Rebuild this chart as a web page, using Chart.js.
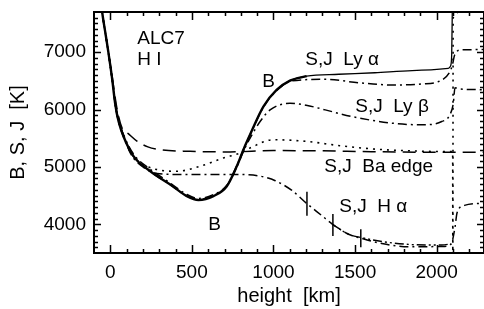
<!DOCTYPE html>
<html>
<head>
<meta charset="utf-8">
<script src="https://cdn.jsdelivr.net/npm/chart.js@4.4.0/dist/chart.umd.min.js"></script>
<style>
  html, body { margin: 0; padding: 0; background: #fff; }
</style>
</head>
<body>
<canvas id="chart" width="484" height="309"></canvas>
<script>
// axis ticks
const xTickValues = [0, 500, 1000, 1500, 2000];
const yTickValues = [4000, 5000, 6000, 7000];

// B (Planck), thick solid
const bHeight = [-60, -50, -30, -12, 10, 31, 50, 81, 143, 245, 367, 469, 540, 632, 714, 775, 820, 856, 938, 1019, 1101, 1203];
const bTemp = [7950, 7700, 7330, 7000, 6560, 6080, 5800, 5531, 5185, 4925, 4694, 4491, 4422, 4491, 4664, 5011, 5330, 5560, 6051, 6341, 6503, 6584];

// Ly alpha S, thin solid
const lyaSHeight = [1019, 1101, 1203, 1400, 1621, 1850, 2071, 2085, 2092, 2096];
const lyaSTemp = [6341, 6503, 6584, 6615, 6641, 6680, 6717, 6760, 6950, 7800];

// Ly alpha J, dash-dot
const lyaJHeight = [-60, -50, -30, -12, 10, 31, 50, 81, 143, 245, 367, 469, 540, 632, 714, 775, 820, 856, 938, 1019, 1113, 1317, 1521, 1725, 1908, 2031, 2081, 2096, 2110, 2150, 2290];
const lyaJTemp = [7950, 7700, 7330, 7000, 6560, 6090, 5820, 5560, 5220, 4960, 4720, 4520, 4450, 4520, 4680, 5020, 5330, 5560, 6040, 6330, 6500, 6526, 6468, 6428, 6445, 6514, 6659, 6775, 6950, 7040, 7045];

// Ly beta S,J, dash-dot
const lybHeight = [-60, -50, -30, -12, 10, 31, 50, 81, 143, 245, 367, 469, 540, 632, 714, 775, 820, 860, 920, 979, 1101, 1200, 1317, 1480, 1725, 1908, 2031, 2081, 2102, 2112, 2140, 2290];
const lybTemp = [7950, 7700, 7330, 7000, 6560, 6070, 5790, 5520, 5180, 4920, 4690, 4490, 4430, 4500, 4670, 5000, 5300, 5520, 5800, 5994, 6110, 6075, 5994, 5878, 5763, 5734, 5791, 5908, 6110, 6380, 6360, 6345];

// Balmer edge J, dotted
const baJHeight = [-60, -50, -30, -12, 10, 31, 50, 81, 122, 180, 285, 408, 550, 693, 795, 856, 999, 1203, 1407, 1610, 1850, 2075, 2098, 2099, 2101, 2200];
const baJTemp = [7950, 7700, 7330, 7000, 6560, 6090, 5810, 5560, 5260, 5080, 4954, 4925, 5011, 5156, 5243, 5330, 5474, 5445, 5370, 5313, 5280, 5266, 5270, 3400, 7600, 7760];

// Balmer edge S, dashed
const baSHeight = [-60, -50, -30, -12, 10, 40, 72, 110, 163, 230, 306, 489, 734, 1000, 1300, 1600, 2000, 2290];
const baSTemp = [7950, 7700, 7330, 7000, 6600, 6030, 5676, 5580, 5450, 5350, 5301, 5272, 5262, 5285, 5280, 5265, 5255, 5255];

// H alpha J, dash-dot
const haJHeight = [-60, -50, -30, -12, 10, 31, 50, 81, 122, 200, 285, 400, 600, 807, 917, 1011, 1113, 1205, 1297, 1362, 1460, 1537, 1664, 1827, 2031, 2088, 2112, 2125, 2170, 2290];
const haJTemp = [7950, 7700, 7330, 7000, 6560, 6085, 5810, 5550, 5243, 5000, 4885, 4870, 4870, 4867, 4840, 4760, 4590, 4360, 4150, 4000, 3827, 3757, 3665, 3607, 3613, 3653, 3942, 4200, 4330, 4370];

// H alpha S, dash-dot-dot
const haSHeight = [1362, 1460, 1537, 1664, 1827, 1950, 2031, 2088];
const haSTemp = [4000, 3827, 3770, 3700, 3650, 3640, 3640, 3660];

// tau = 1 markers on H alpha
const tauHeight = [1205, 1364, 1535];
const tauTemp = [4360, 3990, 3757];

const plotLabels = [
    { text: "ALC7", h: 165, t: 7142 },
    { text: "H I", h: 165, t: 6776 },
    { text: "S,J  Ly \u03b1", h: 1195, t: 6776 },
    { text: "B", h: 931, t: 6393 },
    { text: "S,J  Ly \u03b2", h: 1501, t: 5957 },
    { text: "S,J  Ba edge", h: 1311, t: 4912 },
    { text: "S,J  H \u03b1", h: 1403, t: 4215 },
    { text: "B", h: 600, t: 3901 }
];

const FONT = '"Liberation Sans", Arial, sans-serif';
const zip = (xs, ys) => xs.map((v, i) => ({ x: v, y: ys[i] }));

function lineSet(xs, ys, dash, width) {
    return {
        type: "line",
        data: zip(xs, ys),
        borderColor: "#000",
        borderWidth: width,
        borderDash: dash,
        pointRadius: 0,
        fill: false,
        cubicInterpolationMode: "monotone"
    };
}

// labels, frame and inward ticks (IDL style)
const framePlugin = {
    id: "frame",
    afterDatasetsDraw(chart) {
        const { ctx, chartArea, scales } = chart;
        const { left, right, top, bottom } = chartArea;
        const x = scales.x, y = scales.y;
        ctx.save();
        ctx.fillStyle = "#000";
        ctx.font = "19px " + FONT;
        ctx.textBaseline = "alphabetic";
        plotLabels.forEach(l => ctx.fillText(l.text, x.getPixelForValue(l.h), y.getPixelForValue(l.t)));

        ctx.strokeStyle = "#000";
        ctx.lineWidth = 1.5;
        ctx.beginPath();
        for (let v = 0; v < x.max; v += 100) {
            const px = Math.round(x.getPixelForValue(v)) + 0.5;
            const len = v % 500 === 0 ? 8 : 4;
            ctx.moveTo(px, bottom); ctx.lineTo(px, bottom - len);
            ctx.moveTo(px, top); ctx.lineTo(px, top + len);
        }
        for (let v = 3600; v < y.max; v += 100) {
            const py = Math.round(y.getPixelForValue(v)) + 0.5;
            const len = v % 1000 === 0 ? 7 : 4;
            ctx.moveTo(left, py); ctx.lineTo(left + len, py);
            ctx.moveTo(right, py); ctx.lineTo(right - len, py);
        }
        ctx.stroke();
        ctx.lineWidth = 2;
        ctx.strokeRect(left, top, right - left, bottom - top);
        ctx.restore();
    }
};

new Chart(document.getElementById("chart"), {
    type: "line",
    data: {
        datasets: [
            lineSet(bHeight, bTemp, [], 2.4),
            lineSet(lyaSHeight, lyaSTemp, [], 1.3),
            lineSet(lyaJHeight, lyaJTemp, [9, 4, 2, 4], 1.5),
            lineSet(lybHeight, lybTemp, [9, 4, 2, 4], 1.5),
            lineSet(baJHeight, baJTemp, [2, 5], 1.6),
            lineSet(baSHeight, baSTemp, [13, 7], 1.5),
            lineSet(haJHeight, haJTemp, [9, 4, 2, 4], 1.5),
            lineSet(haSHeight, haSTemp, [9, 3, 2, 3, 2, 3], 1.4),
            {
                type: "scatter",
                data: zip(tauHeight, tauTemp),
                pointStyle: "line",
                rotation: 90,
                pointRadius: [12, 11, 9],
                borderColor: "#000",
                borderWidth: 1.5,
                showLine: false
            }
        ]
    },
    options: {
        responsive: false,
        animation: false,
        layout: { autoPadding: false, padding: { top: 12, right: 0, left: 0, bottom: 0 } },
        plugins: { legend: { display: false }, tooltip: { enabled: false } },
        scales: {
            x: {
                type: "linear",
                min: -100,
                max: 2290,
                afterFit: s => { s.height = 56; s.paddingLeft = 0; s.paddingRight = 0; },
                afterBuildTicks: s => { s.ticks = xTickValues.map(v => ({ value: v })); },
                grid: { display: false, drawTicks: false },
                border: { display: false },
                ticks: { color: "#000", font: { family: FONT, size: 19 }, padding: 8, maxRotation: 0, autoSkip: false, callback: v => String(v) },
                title: { display: true, text: "height  [km]", color: "#000", font: { family: FONT, size: 20 }, padding: { top: 0, bottom: 1 } }
            },
            y: {
                type: "linear",
                min: 3500,
                max: 7700,
                afterFit: s => { s.width = 94; s.paddingTop = 0; s.paddingBottom = 0; },
                afterBuildTicks: s => { s.ticks = yTickValues.map(v => ({ value: v })); },
                grid: { display: false, drawTicks: false },
                border: { display: false },
                ticks: { color: "#000", font: { family: FONT, size: 19 }, padding: 8, callback: v => String(v) },
                title: { display: true, text: "B, S, J  [K]", color: "#000", font: { family: FONT, size: 20 }, padding: { top: 6, bottom: 0 } }
            }
        }
    },
    plugins: [framePlugin]
});
</script>
</body>
</html>
